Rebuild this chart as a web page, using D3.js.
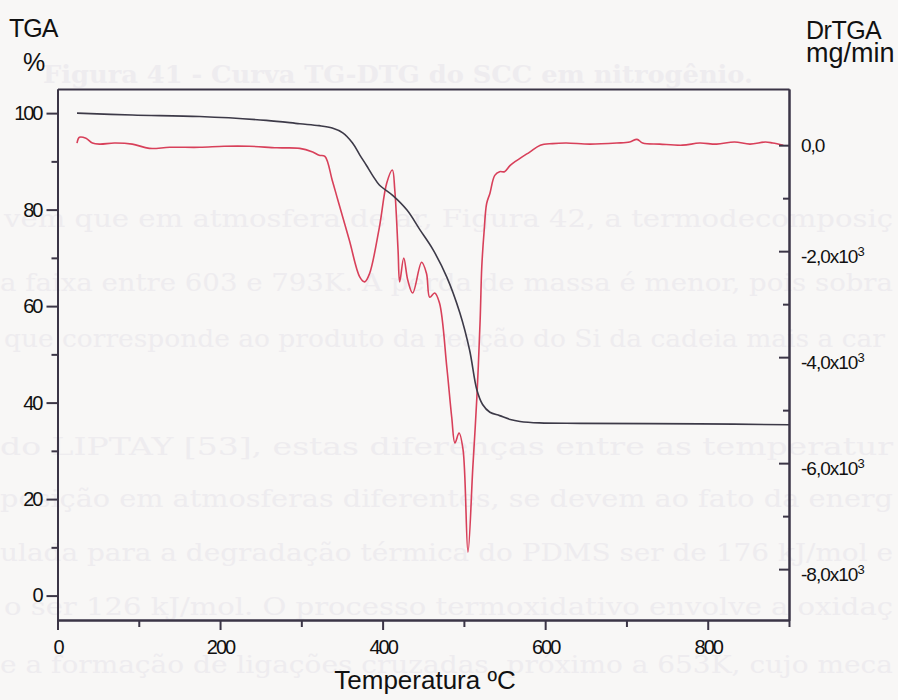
<!DOCTYPE html>
<html>
<head>
<meta charset="utf-8">
<script src="https://cdn.jsdelivr.net/npm/d3@7"></script>
<style>
  html, body { margin: 0; padding: 0; background: #f8f7f6; }
  svg { display: block; }
  .tick text { font-family: "Liberation Sans", Arial, sans-serif; }
</style>
</head>
<body>
<div id="chart"></div>
<script>
// TGA curve (% mass) vs temperature (ºC)
var tgaTemp = [24, 92, 175, 257, 298, 322, 338, 351, 363, 372, 380, 388, 396, 412, 430, 446, 462, 479, 495, 507, 516, 523, 532, 544, 557, 569, 593, 643, 790, 900];
var tgaMass = [100.0, 99.6, 99.3, 98.5, 97.8, 97.4, 96.9, 95.9, 93.8, 91.3, 89.2, 87.0, 85.1, 83.0, 79.9, 75.8, 71.7, 66.0, 58.6, 50.9, 42.6, 39.6, 38.0, 37.3, 36.5, 36.1, 35.8, 35.7, 35.6, 35.4];

// DrTGA curve (x10^-3 mg/min) vs temperature (ºC)
var dtgTemp = [24, 27, 35, 43, 52, 70, 92, 113, 138, 175, 205, 236, 270, 298, 314, 322, 329, 338, 345, 359, 372, 378, 384, 396, 405, 412, 415, 419, 421, 426, 431, 437, 448, 454, 458, 464, 470, 479, 485, 489, 494, 499, 505, 511, 516, 520, 522, 525, 528, 532, 538, 544, 550, 557, 569, 581, 594, 609, 626, 655, 688, 704, 713, 720, 741, 769, 790, 811, 833, 852, 871, 880, 893];
var dtgRate = [0.04, 0.15, 0.13, 0.04, 0.02, 0.04, 0.02, -0.06, -0.04, -0.04, -0.02, -0.02, -0.05, -0.06, -0.13, -0.19, -0.21, -0.66, -1.04, -1.79, -2.49, -2.58, -2.42, -1.55, -0.72, -0.47, -0.85, -1.98, -2.58, -2.13, -2.55, -2.79, -2.21, -2.42, -2.87, -2.79, -2.98, -4.19, -5.13, -5.62, -5.43, -5.75, -7.68, -6.08, -4.75, -3.30, -2.30, -1.60, -1.10, -0.91, -0.57, -0.50, -0.50, -0.38, -0.25, -0.13, 0.00, 0.03, 0.04, 0.02, 0.04, 0.06, 0.11, 0.04, 0.02, 0.00, 0.04, 0.02, 0.06, 0.02, 0.06, 0.04, 0.00];

var xMajor = [0, 200, 400, 600, 800];
var xMinor = [100, 300, 500, 700, 900];
var leftMajor = [0, 20, 40, 60, 80, 100];
var leftMinor = [10, 30, 50, 70, 90];
var rightMajor = [0, -2, -4, -6, -8];
var rightMinor = [-1, -3, -5, -7];
var rightLabels = ["0,0", "-2,0x10", "-4,0x10", "-6,0x10", "-8,0x10"];

// faint text showing through from the back of the page
var ghostLines = [
  [ "Figura 41 - Curva TG-DTG do SCC em nitrogênio.", 43, 753, 83, "bold" ],
  [ "vem que em atmosfera de ar, Figura 42, a termodecomposiç", 4, 893, 227, "normal" ],
  [ "a faixa entre 603 e 793K. A perda de massa é menor, pois sobra", 0, 893, 291, "normal" ],
  [ "que corresponde ao produto da reação do Si da cadeia mais a car", 4, 885, 347, "normal" ],
  [ "do LIPTAY [53], estas diferenças entre as temperatur", 0, 893, 455, "normal" ],
  [ "posição em atmosferas diferentes, se devem ao fato da energ", 0, 893, 507, "normal" ],
  [ "ulada para a degradação térmica do PDMS ser de 176 kJ/mol e", 0, 893, 561, "normal" ],
  [ "o ser 126 kJ/mol. O processo termoxidativo envolve a oxidaç", 4, 893, 615, "normal" ],
  [ "e a formação de ligações cruzadas, próximo a 653K, cujo meca", 0, 893, 673, "normal" ]
];

var width = 898, height = 700;
var mLeft = 57.5, mRight = 789, mTop = 89, mBottom = 620;
var axisColor = "#3b3546";
var font = "'Liberation Sans', Arial, sans-serif";

var svg = d3.select( "#chart" ).append( "svg" )
  .attr( "width", width )
  .attr( "height", height );

svg.append( "rect" )
  .attr( "width", width ).attr( "height", height )
  .attr( "fill", "#f8f7f6" );

svg.append( "g" ).selectAll( "text" )
  .data( ghostLines )
  .enter()
  .append( "text" )
  .attr( "x", d => d[1] )
  .attr( "y", d => d[3] )
  .attr( "textLength", d => d[2] - d[1] )
  .attr( "lengthAdjust", "spacingAndGlyphs" )
  .attr( "font-family", "'DejaVu Serif', 'Liberation Serif', serif" )
  .attr( "font-size", 25 )
  .attr( "font-weight", d => d[4] )
  .attr( "fill", "#eeecef" )
  .text( d => d[0] );

var x = d3.scaleLinear().domain( [ 0, 900 ] ).range( [ mLeft, mRight ] );
var yL = d3.scaleLinear().domain( [ -5.06, 105 ] ).range( [ mBottom, mTop ] );
var yR = d3.scaleLinear().domain( [ -8.96, 1.06 ] ).range( [ mBottom, mTop ] );

// curves
var tgaData = tgaTemp.map( ( t, i ) => ( { t: t, v: tgaMass[i] } ) );
var dtgData = dtgTemp.map( ( t, i ) => ( { t: t, v: dtgRate[i] } ) );

svg.append( "path" )
  .datum( dtgData )
  .attr( "fill", "none" )
  .attr( "stroke", "#d8405a" )
  .attr( "stroke-width", 1.6 )
  .attr( "d", d3.line().curve( d3.curveCatmullRom.alpha( 0.5 ) )
    .x( d => x( d.t ) ).y( d => yR( d.v ) ) );

svg.append( "path" )
  .datum( tgaData )
  .attr( "fill", "none" )
  .attr( "stroke", "#3d3a48" )
  .attr( "stroke-width", 1.6 )
  .attr( "d", d3.line().curve( d3.curveCatmullRom.alpha( 0.5 ) )
    .x( d => x( d.t ) ).y( d => yL( d.v ) ) );

function styleAxis( g ) {
  g.selectAll( "path, line" ).attr( "stroke", axisColor ).attr( "stroke-width", 2 );
  g.selectAll( "text" )
    .attr( "fill", "#111" )
    .attr( "font-size", 20 )
    .attr( "letter-spacing", "-2px" );
}

// bottom axis
svg.append( "g" )
  .attr( "transform", `translate(0, ${ mBottom })` )
  .call( d3.axisBottom( x ).tickValues( xMinor ).tickSize( 7 ).tickSizeOuter( 0 ).tickFormat( "" ) )
  .call( styleAxis );
svg.append( "g" )
  .attr( "transform", `translate(0, ${ mBottom })` )
  .call( d3.axisBottom( x ).tickValues( xMajor ).tickSize( 10 ).tickSizeOuter( 0 ).tickPadding( 10 ) )
  .call( styleAxis );

// top frame
svg.append( "g" )
  .attr( "transform", `translate(0, ${ mTop })` )
  .call( d3.axisTop( x ).tickValues( [] ).tickSizeOuter( 0 ) )
  .call( styleAxis );

// left axis
svg.append( "g" )
  .attr( "transform", `translate(${ mLeft }, 0)` )
  .call( d3.axisLeft( yL ).tickValues( leftMinor ).tickSize( 6 ).tickSizeOuter( 0 ).tickFormat( "" ) )
  .call( styleAxis );
svg.append( "g" )
  .attr( "transform", `translate(${ mLeft }, 0)` )
  .call( d3.axisLeft( yL ).tickValues( leftMajor ).tickSize( 11 ).tickSizeOuter( 0 ).tickPadding( 5 ) )
  .call( styleAxis );

// right axis, ticks pointing inward
svg.append( "g" )
  .attr( "transform", `translate(${ mRight }, 0)` )
  .call( d3.axisRight( yR ).tickValues( rightMinor ).tickSize( -6 ).tickSizeOuter( 0 ).tickFormat( "" ) )
  .call( styleAxis );
var rAxis = svg.append( "g" )
  .attr( "transform", `translate(${ mRight }, 0)` )
  .call( d3.axisRight( yR ).tickValues( rightMajor ).tickSize( -10 ).tickSizeOuter( 0 ).tickPadding( 12 )
    .tickFormat( ( d, i ) => rightLabels[i] ) )
  .call( styleAxis );

rAxis.selectAll( ".tick text" )
  .attr( "font-size", 19 )
  .attr( "letter-spacing", "-1px" )
  .attr( "dy", ( d ) => d === 0 ? "0.32em" : "0.6em" )
  .filter( d => d !== 0 )
  .append( "tspan" )
  .attr( "dy", "-0.55em" )
  .attr( "font-size", 13 )
  .attr( "letter-spacing", "0px" )
  .text( "3" );

// axis titles
function title( txt, tx, ty, anchor, size, spacing ) {
  svg.append( "text" )
    .attr( "x", tx ).attr( "y", ty )
    .attr( "text-anchor", anchor )
    .attr( "font-family", font )
    .attr( "font-size", size )
    .attr( "letter-spacing", spacing )
    .attr( "fill", "#111" )
    .text( txt );
}
title( "TGA", 9, 37, "start", 25, "-1px" );
title( "%", 23, 71, "start", 25, "-1px" );
title( "DrTGA", 806, 39, "start", 25, "-0.5px" );
title( "mg/min", 806, 62, "start", 27, "0px" );
title( "Temperatura ºC", 425, 689, "middle", 26, "0px" );
</script>
</body>
</html>
